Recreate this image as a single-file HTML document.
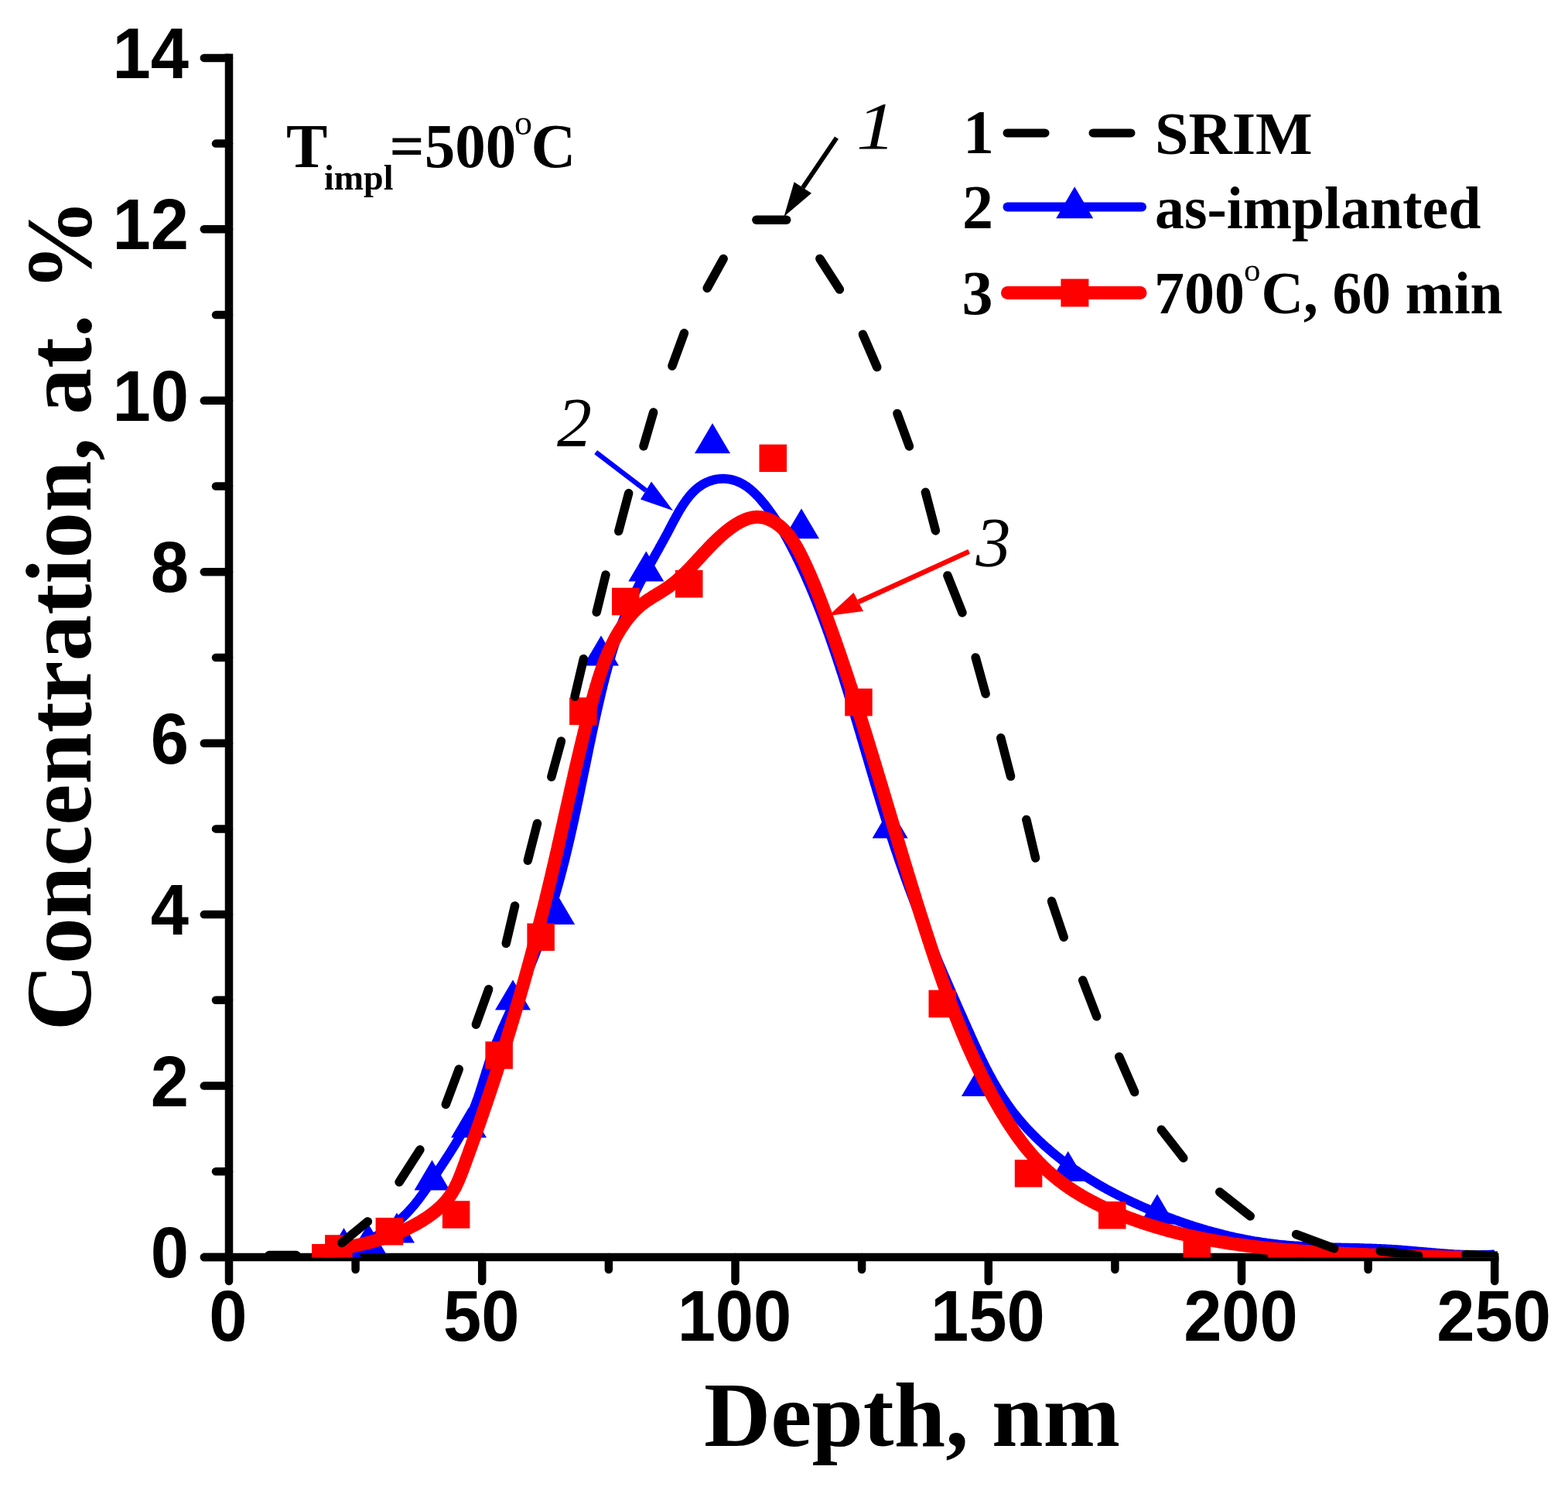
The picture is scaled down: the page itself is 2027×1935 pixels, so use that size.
<!DOCTYPE html><html><head><meta charset="utf-8"><style>html,body{margin:0;padding:0;background:#fff;overflow:hidden}svg{display:block}</style></head><body>
<svg xmlns="http://www.w3.org/2000/svg" width="2027" height="1935" viewBox="0 0 2027 1935">
<rect width="2027" height="1935" fill="#fff"/>
<defs><clipPath id="pc"><rect x="296" y="0" width="1640" height="1625.5"/></clipPath></defs>
<g stroke="#000" stroke-width="10.5" stroke-linecap="round" fill="none">
<path d="M296,69.6 L296,1625" stroke-linecap="butt"/>
<path d="M262,1624.9 L1937.45,1624.9" stroke-linecap="butt"/>
<path d="M263.8,1625.0 L296,1625.0"/>
<path d="M279,1514.3 L296,1514.3"/>
<path d="M263.8,1403.6 L296,1403.6"/>
<path d="M279,1292.8 L296,1292.8"/>
<path d="M263.8,1182.1 L296,1182.1"/>
<path d="M279,1071.4 L296,1071.4"/>
<path d="M263.8,960.7 L296,960.7"/>
<path d="M279,850.0 L296,850.0"/>
<path d="M263.8,739.2 L296,739.2"/>
<path d="M279,628.5 L296,628.5"/>
<path d="M263.8,517.8 L296,517.8"/>
<path d="M279,407.1 L296,407.1"/>
<path d="M263.8,296.3 L296,296.3"/>
<path d="M279,185.6 L296,185.6"/>
<path d="M263.8,74.9 L296,74.9"/>
<path d="M296.0,1625 L296.0,1656"/>
<path d="M459.6,1625 L459.6,1641"/>
<path d="M623.2,1625 L623.2,1656"/>
<path d="M786.9,1625 L786.9,1641"/>
<path d="M950.5,1625 L950.5,1656"/>
<path d="M1114.1,1625 L1114.1,1641"/>
<path d="M1277.8,1625 L1277.8,1656"/>
<path d="M1441.4,1625 L1441.4,1641"/>
<path d="M1605.0,1625 L1605.0,1656"/>
<path d="M1768.6,1625 L1768.6,1641"/>
<path d="M1932.2,1625 L1932.2,1656"/>
</g>
<g font-family="Liberation Sans, Arial, sans-serif" font-weight="bold" font-size="93" fill="#000">
<text x="244" y="1651.0" text-anchor="end" transform="translate(244 0) scale(0.952 1) translate(-244 0)">0</text>
<text x="244" y="1429.6" text-anchor="end" transform="translate(244 0) scale(0.952 1) translate(-244 0)">2</text>
<text x="244" y="1208.1" text-anchor="end" transform="translate(244 0) scale(0.952 1) translate(-244 0)">4</text>
<text x="244" y="986.7" text-anchor="end" transform="translate(244 0) scale(0.952 1) translate(-244 0)">6</text>
<text x="244" y="765.2" text-anchor="end" transform="translate(244 0) scale(0.952 1) translate(-244 0)">8</text>
<text x="244" y="543.8" text-anchor="end" transform="translate(244 0) scale(0.952 1) translate(-244 0)">10</text>
<text x="244" y="322.3" text-anchor="end" transform="translate(244 0) scale(0.952 1) translate(-244 0)">12</text>
<text x="244" y="100.9" text-anchor="end" transform="translate(244 0) scale(0.952 1) translate(-244 0)">14</text>
<text x="295.0" y="1733" text-anchor="middle" transform="translate(295.0 0) scale(0.952 1) translate(-295.0 0)">0</text>
<text x="622.2" y="1733" text-anchor="middle" transform="translate(622.2 0) scale(0.952 1) translate(-622.2 0)">50</text>
<text x="949.5" y="1733" text-anchor="middle" transform="translate(949.5 0) scale(0.952 1) translate(-949.5 0)">100</text>
<text x="1276.8" y="1733" text-anchor="middle" transform="translate(1276.8 0) scale(0.952 1) translate(-1276.8 0)">150</text>
<text x="1604.0" y="1733" text-anchor="middle" transform="translate(1604.0 0) scale(0.952 1) translate(-1604.0 0)">200</text>
<text x="1931.2" y="1733" text-anchor="middle" transform="translate(1931.2 0) scale(0.952 1) translate(-1931.2 0)">250</text>
</g>
<g clip-path="url(#pc)">
<path d="M405.2,1624.0 L407.1,1623.7 L409.0,1623.4 L410.9,1623.1 L412.8,1622.7 L414.7,1622.4 L416.7,1622.0 L418.6,1621.6 L420.5,1621.2 L422.5,1620.8 L424.4,1620.4 L426.3,1620.0 L428.3,1619.5 L430.2,1619.0 L432.1,1618.6 L434.1,1618.1 L436.0,1617.5 L438.0,1617.0 L439.9,1616.5 L441.8,1615.9 L443.8,1615.3 L445.7,1614.7 L447.6,1614.1 L449.5,1613.5 L451.5,1612.9 L453.4,1612.2 L455.3,1611.5 L457.2,1610.9 L459.1,1610.2 L461.0,1609.4 L462.9,1608.7 L464.7,1607.9 L466.6,1607.2 L468.5,1606.4 L470.3,1605.6 L472.2,1604.8 L474.0,1603.9 L475.9,1603.1 L477.7,1602.2 L479.5,1601.3 L481.3,1600.4 L483.1,1599.5 L484.9,1598.6 L486.7,1597.6 L488.4,1596.6 L490.2,1595.6 L491.9,1594.6 L493.6,1593.6 L495.3,1592.6 L497.0,1591.5 L498.7,1590.4 L500.4,1589.3 L502.0,1588.2 L503.7,1587.1 L505.3,1585.9 L506.9,1584.8 L508.5,1583.6 L510.1,1582.4 L511.6,1581.1 L513.2,1579.9 L514.7,1578.6 L516.2,1577.4 L517.7,1576.1 L519.2,1574.7 L520.6,1573.4 L522.0,1572.0 L523.4,1570.7 L524.8,1569.3 L526.2,1567.9 L527.6,1566.4 L528.9,1565.0 L530.2,1563.5 L531.6,1562.1 L532.8,1560.6 L534.1,1559.1 L535.4,1557.6 L536.7,1556.0 L537.9,1554.5 L539.1,1552.9 L540.3,1551.4 L541.6,1549.8 L542.7,1548.2 L543.9,1546.6 L545.1,1545.0 L546.3,1543.4 L547.4,1541.8 L548.6,1540.2 L549.7,1538.5 L550.9,1536.9 L552.0,1535.2 L553.1,1533.6 L554.3,1531.9 L555.4,1530.3 L556.5,1528.6 L557.6,1526.9 L558.7,1525.3 L559.8,1523.6 L560.9,1521.9 L562.0,1520.2 L563.1,1518.5 L564.2,1516.9 L565.3,1515.2 L566.4,1513.5 L567.5,1511.8 L568.6,1510.1 L569.7,1508.4 L570.8,1506.8 L571.9,1505.1 L573.0,1503.4 L574.1,1501.7 L575.2,1500.0 L576.3,1498.3 L577.4,1496.7 L578.5,1495.0 L579.6,1493.3 L580.7,1491.6 L581.8,1489.9 L582.8,1488.2 L583.9,1486.5 L585.0,1484.8 L586.0,1483.1 L587.1,1481.4 L588.1,1479.7 L589.2,1478.0 L590.2,1476.3 L591.2,1474.6 L592.2,1472.8 L593.2,1471.1 L594.2,1469.4 L595.2,1467.7 L596.2,1465.9 L597.2,1464.2 L598.2,1462.4 L599.1,1460.7 L600.1,1458.9 L601.0,1457.2 L601.9,1455.4 L602.9,1453.6 L603.8,1451.9 L604.7,1450.1 L605.5,1448.3 L606.4,1446.5 L607.3,1444.7 L608.1,1442.9 L608.9,1441.1 L609.7,1439.3 L610.5,1437.5 L611.3,1435.6 L612.1,1433.8 L612.9,1432.0 L613.6,1430.1 L614.3,1428.2 L615.0,1426.4 L615.7,1424.5 L616.4,1422.6 L617.1,1420.7 L617.8,1418.9 L618.4,1417.0 L619.0,1415.1 L619.7,1413.2 L620.3,1411.3 L620.9,1409.3 L621.5,1407.4 L622.1,1405.5 L622.7,1403.6 L623.3,1401.7 L623.9,1399.8 L624.5,1397.8 L625.1,1395.9 L625.7,1394.0 L626.3,1392.1 L626.9,1390.1 L627.5,1388.2 L628.1,1386.3 L628.7,1384.4 L629.3,1382.5 L629.9,1380.6 L630.5,1378.6 L631.1,1376.7 L631.7,1374.8 L632.3,1372.9 L633.0,1371.0 L633.6,1369.1 L634.3,1367.2 L634.9,1365.4 L635.6,1363.5 L636.3,1361.6 L637.0,1359.7 L637.7,1357.9 L638.4,1356.0 L639.1,1354.1 L639.8,1352.3 L640.6,1350.4 L641.3,1348.6 L642.1,1346.7 L642.8,1344.9 L643.6,1343.1 L644.3,1341.2 L645.1,1339.4 L645.9,1337.6 L646.7,1335.7 L647.4,1333.9 L648.2,1332.1 L649.0,1330.3 L649.8,1328.4 L650.6,1326.6 L651.5,1324.8 L652.3,1323.0 L653.1,1321.2 L653.9,1319.4 L654.7,1317.6 L655.5,1315.8 L656.4,1313.9 L657.2,1312.1 L658.0,1310.3 L658.9,1308.5 L659.7,1306.7 L660.5,1304.9 L661.4,1303.1 L662.2,1301.3 L663.1,1299.5 L663.9,1297.7 L664.7,1295.9 L665.6,1294.1 L666.4,1292.3 L667.2,1290.5 L668.1,1288.7 L668.9,1286.8 L669.7,1285.0 L670.6,1283.2 L671.4,1281.4 L672.2,1279.6 L673.1,1277.8 L673.9,1276.0 L674.7,1274.1 L675.5,1272.3 L676.3,1270.5 L677.1,1268.7 L677.9,1266.8 L678.7,1265.0 L679.5,1263.2 L680.3,1261.3 L681.1,1259.5 L681.9,1257.7 L682.7,1255.8 L683.4,1254.0 L684.2,1252.1 L685.0,1250.3 L685.8,1248.4 L686.5,1246.6 L687.3,1244.7 L688.0,1242.9 L688.8,1241.0 L689.5,1239.1 L690.3,1237.3 L691.0,1235.4 L691.7,1233.6 L692.5,1231.7 L693.2,1229.8 L693.9,1227.9 L694.6,1226.1 L695.3,1224.2 L696.0,1222.3 L696.7,1220.4 L697.4,1218.6 L698.1,1216.7 L698.8,1214.8 L699.5,1212.9 L700.2,1211.0 L700.9,1209.1 L701.6,1207.3 L702.2,1205.4 L702.9,1203.5 L703.6,1201.6 L704.2,1199.7 L704.9,1197.8 L705.5,1195.9 L706.2,1194.0 L706.8,1192.1 L707.5,1190.2 L708.1,1188.3 L708.7,1186.4 L709.3,1184.5 L710.0,1182.6 L710.6,1180.7 L711.2,1178.8 L711.8,1176.9 L712.4,1175.0 L713.0,1173.1 L713.6,1171.2 L714.2,1169.2 L714.8,1167.3 L715.4,1165.4 L715.9,1163.5 L716.5,1161.6 L717.1,1159.7 L717.7,1157.8 L718.2,1155.9 L718.8,1153.9 L719.3,1152.0 L719.9,1150.1 L720.4,1148.2 L721.0,1146.3 L721.5,1144.3 L722.1,1142.4 L722.6,1140.5 L723.1,1138.6 L723.6,1136.7 L724.2,1134.7 L724.7,1132.8 L725.2,1130.9 L725.7,1129.0 L726.2,1127.0 L726.7,1125.1 L727.2,1123.2 L727.7,1121.3 L728.2,1119.3 L728.7,1117.4 L729.2,1115.5 L729.7,1113.5 L730.2,1111.6 L730.7,1109.7 L731.1,1107.7 L731.6,1105.8 L732.1,1103.9 L732.6,1101.9 L733.0,1100.0 L733.5,1098.1 L734.0,1096.1 L734.4,1094.2 L734.9,1092.3 L735.3,1090.3 L735.8,1088.4 L736.2,1086.5 L736.7,1084.5 L737.1,1082.6 L737.6,1080.6 L738.0,1078.7 L738.5,1076.8 L738.9,1074.8 L739.3,1072.9 L739.8,1070.9 L740.2,1069.0 L740.6,1067.1 L741.1,1065.1 L741.5,1063.2 L741.9,1061.2 L742.4,1059.3 L742.8,1057.3 L743.2,1055.4 L743.6,1053.4 L744.0,1051.5 L744.5,1049.5 L744.9,1047.6 L745.3,1045.7 L745.7,1043.7 L746.1,1041.8 L746.5,1039.8 L747.0,1037.9 L747.4,1035.9 L747.8,1034.0 L748.2,1032.0 L748.6,1030.1 L749.0,1028.1 L749.4,1026.2 L749.8,1024.2 L750.2,1022.2 L750.6,1020.3 L751.0,1018.3 L751.4,1016.4 L751.8,1014.4 L752.2,1012.5 L752.6,1010.5 L753.0,1008.6 L753.4,1006.6 L753.8,1004.7 L754.2,1002.7 L754.6,1000.7 L755.0,998.8 L755.4,996.8 L755.9,994.9 L756.3,992.9 L756.7,991.0 L757.1,989.0 L757.5,987.0 L757.9,985.1 L758.3,983.1 L758.7,981.2 L759.1,979.2 L759.5,977.3 L759.9,975.3 L760.3,973.3 L760.7,971.4 L761.1,969.4 L761.5,967.5 L761.9,965.5 L762.3,963.5 L762.7,961.6 L763.1,959.6 L763.6,957.7 L764.0,955.7 L764.4,953.7 L764.8,951.8 L765.2,949.8 L765.6,947.8 L766.0,945.9 L766.5,943.9 L766.9,942.0 L767.3,940.0 L767.7,938.0 L768.2,936.1 L768.6,934.1 L769.0,932.1 L769.4,930.2 L769.9,928.2 L770.3,926.3 L770.7,924.3 L771.2,922.3 L771.6,920.4 L772.1,918.4 L772.5,916.4 L773.0,914.5 L773.4,912.5 L773.8,910.6 L774.3,908.6 L774.8,906.6 L775.2,904.7 L775.7,902.7 L776.1,900.7 L776.6,898.8 L777.1,896.8 L777.5,894.9 L778.0,892.9 L778.5,890.9 L779.0,889.0 L779.4,887.0 L779.9,885.1 L780.4,883.1 L780.9,881.2 L781.4,879.2 L781.9,877.3 L782.4,875.3 L782.9,873.4 L783.4,871.4 L783.9,869.5 L784.5,867.5 L785.0,865.6 L785.5,863.6 L786.0,861.7 L786.6,859.7 L787.1,857.8 L787.6,855.9 L788.2,853.9 L788.7,852.0 L789.3,850.1 L789.9,848.2 L790.4,846.2 L791.0,844.3 L791.6,842.4 L792.2,840.5 L792.8,838.6 L793.4,836.7 L793.9,834.8 L794.6,832.8 L795.2,830.9 L795.8,829.0 L796.4,827.1 L797.0,825.3 L797.7,823.4 L798.3,821.5 L798.9,819.6 L799.6,817.7 L800.3,815.8 L800.9,814.0 L801.6,812.1 L802.3,810.2 L802.9,808.4 L803.6,806.5 L804.3,804.7 L805.0,802.8 L805.7,801.0 L806.5,799.1 L807.2,797.3 L807.9,795.4 L808.7,793.6 L809.4,791.8 L810.2,790.0 L810.9,788.1 L811.7,786.3 L812.5,784.5 L813.3,782.7 L814.0,780.9 L814.8,779.1 L815.7,777.3 L816.5,775.6 L817.3,773.8 L818.1,772.0 L819.0,770.2 L819.8,768.5 L820.7,766.7 L821.5,765.0 L822.4,763.2 L823.3,761.4 L824.2,759.7 L825.0,758.0 L825.9,756.2 L826.8,754.5 L827.7,752.7 L828.7,751.0 L829.6,749.3 L830.5,747.5 L831.4,745.8 L832.4,744.1 L833.3,742.3 L834.2,740.6 L835.2,738.9 L836.1,737.2 L837.1,735.4 L838.0,733.7 L839.0,732.0 L840.0,730.2 L840.9,728.5 L841.9,726.8 L842.9,725.0 L843.8,723.3 L844.8,721.6 L845.8,719.8 L846.8,718.1 L847.7,716.3 L848.7,714.6 L849.7,712.8 L850.7,711.1 L851.7,709.3 L852.6,707.5 L853.6,705.7 L854.6,704.0 L855.6,702.2 L856.6,700.4 L857.6,698.6 L858.5,696.8 L859.5,695.0 L860.5,693.2 L861.5,691.4 L862.5,689.6 L863.4,687.7 L864.4,685.9 L865.4,684.0 L866.3,682.2 L867.3,680.3 L868.3,678.5 L869.2,676.6 L870.2,674.8 L871.2,672.9 L872.2,671.1 L873.2,669.3 L874.2,667.4 L875.2,665.6 L876.2,663.8 L877.2,662.0 L878.3,660.2 L879.3,658.4 L880.4,656.7 L881.5,655.0 L882.5,653.3 L883.7,651.6 L884.8,649.9 L885.9,648.3 L887.1,646.6 L888.3,645.1 L889.5,643.5 L890.7,642.0 L891.9,640.5 L893.2,639.0 L894.5,637.6 L895.8,636.2 L897.2,634.9 L898.5,633.6 L899.9,632.3 L901.4,631.1 L902.8,630.0 L904.3,628.8 L905.9,627.8 L907.4,626.7 L909.0,625.8 L910.7,624.9 L912.3,624.0 L914.1,623.2 L915.8,622.5 L917.6,621.8 L919.4,621.2 L921.2,620.6 L923.1,620.1 L925.0,619.7 L926.9,619.4 L928.8,619.1 L930.7,618.9 L932.7,618.8 L934.6,618.7 L936.6,618.8 L938.5,618.9 L940.5,619.1 L942.4,619.4 L944.3,619.7 L946.2,620.1 L948.1,620.6 L950.0,621.2 L951.9,621.9 L953.7,622.6 L955.6,623.4 L957.4,624.2 L959.1,625.2 L960.9,626.1 L962.6,627.2 L964.3,628.3 L966.0,629.4 L967.6,630.7 L969.2,631.9 L970.8,633.2 L972.3,634.6 L973.9,635.9 L975.4,637.4 L976.9,638.8 L978.3,640.3 L979.8,641.8 L981.2,643.4 L982.6,644.9 L984.0,646.5 L985.3,648.1 L986.6,649.7 L988.0,651.3 L989.3,652.9 L990.5,654.5 L991.8,656.2 L993.0,657.8 L994.2,659.5 L995.4,661.1 L996.6,662.8 L997.8,664.4 L999.0,666.1 L1000.1,667.7 L1001.2,669.4 L1002.3,671.1 L1003.4,672.8 L1004.5,674.5 L1005.6,676.2 L1006.7,677.9 L1007.7,679.6 L1008.7,681.3 L1009.8,683.0 L1010.8,684.7 L1011.8,686.4 L1012.8,688.1 L1013.8,689.8 L1014.7,691.6 L1015.7,693.3 L1016.7,695.0 L1017.6,696.8 L1018.6,698.5 L1019.5,700.3 L1020.4,702.0 L1021.4,703.8 L1022.3,705.5 L1023.2,707.3 L1024.1,709.0 L1025.0,710.8 L1025.9,712.6 L1026.8,714.3 L1027.7,716.1 L1028.6,717.9 L1029.5,719.7 L1030.3,721.5 L1031.2,723.3 L1032.1,725.0 L1032.9,726.8 L1033.8,728.6 L1034.6,730.4 L1035.5,732.2 L1036.3,734.0 L1037.2,735.8 L1038.0,737.6 L1038.8,739.4 L1039.7,741.3 L1040.5,743.1 L1041.3,744.9 L1042.1,746.7 L1042.9,748.5 L1043.7,750.4 L1044.5,752.2 L1045.3,754.0 L1046.1,755.8 L1046.9,757.7 L1047.7,759.5 L1048.4,761.4 L1049.2,763.2 L1050.0,765.0 L1050.8,766.9 L1051.5,768.7 L1052.3,770.6 L1053.0,772.4 L1053.8,774.3 L1054.5,776.1 L1055.3,778.0 L1056.0,779.8 L1056.7,781.7 L1057.5,783.6 L1058.2,785.4 L1058.9,787.3 L1059.7,789.1 L1060.4,791.0 L1061.1,792.9 L1061.8,794.7 L1062.5,796.6 L1063.2,798.5 L1063.9,800.4 L1064.6,802.2 L1065.3,804.1 L1066.0,806.0 L1066.7,807.9 L1067.4,809.7 L1068.1,811.6 L1068.8,813.5 L1069.4,815.4 L1070.1,817.3 L1070.8,819.2 L1071.5,821.0 L1072.1,822.9 L1072.8,824.8 L1073.4,826.7 L1074.1,828.6 L1074.8,830.5 L1075.4,832.4 L1076.1,834.3 L1076.7,836.2 L1077.4,838.1 L1078.0,840.0 L1078.7,841.8 L1079.3,843.7 L1079.9,845.6 L1080.6,847.5 L1081.2,849.4 L1081.8,851.3 L1082.5,853.2 L1083.1,855.1 L1083.7,857.0 L1084.4,858.9 L1085.0,860.8 L1085.6,862.7 L1086.2,864.6 L1086.8,866.5 L1087.4,868.4 L1088.1,870.3 L1088.7,872.2 L1089.3,874.1 L1089.9,876.1 L1090.5,878.0 L1091.1,879.9 L1091.7,881.8 L1092.3,883.7 L1092.9,885.6 L1093.5,887.5 L1094.1,889.4 L1094.7,891.3 L1095.3,893.2 L1095.9,895.1 L1096.5,897.0 L1097.0,899.0 L1097.6,900.9 L1098.2,902.8 L1098.8,904.7 L1099.4,906.6 L1100.0,908.5 L1100.6,910.4 L1101.1,912.3 L1101.7,914.3 L1102.3,916.2 L1102.9,918.1 L1103.4,920.0 L1104.0,921.9 L1104.6,923.8 L1105.2,925.7 L1105.7,927.7 L1106.3,929.6 L1106.9,931.5 L1107.5,933.4 L1108.0,935.3 L1108.6,937.2 L1109.2,939.2 L1109.7,941.1 L1110.3,943.0 L1110.9,944.9 L1111.4,946.8 L1112.0,948.7 L1112.6,950.7 L1113.1,952.6 L1113.7,954.5 L1114.3,956.4 L1114.8,958.3 L1115.4,960.2 L1116.0,962.2 L1116.5,964.1 L1117.1,966.0 L1117.6,967.9 L1118.2,969.8 L1118.8,971.7 L1119.3,973.7 L1119.9,975.6 L1120.5,977.5 L1121.0,979.4 L1121.6,981.3 L1122.2,983.3 L1122.7,985.2 L1123.3,987.1 L1123.8,989.0 L1124.4,990.9 L1125.0,992.8 L1125.5,994.8 L1126.1,996.7 L1126.7,998.6 L1127.2,1000.5 L1127.8,1002.4 L1128.4,1004.3 L1128.9,1006.2 L1129.5,1008.2 L1130.1,1010.1 L1130.6,1012.0 L1131.2,1013.9 L1131.8,1015.8 L1132.4,1017.7 L1132.9,1019.7 L1133.5,1021.6 L1134.1,1023.5 L1134.6,1025.4 L1135.2,1027.3 L1135.8,1029.2 L1136.4,1031.1 L1137.0,1033.0 L1137.5,1035.0 L1138.1,1036.9 L1138.7,1038.8 L1139.3,1040.7 L1139.9,1042.6 L1140.4,1044.5 L1141.0,1046.4 L1141.6,1048.3 L1142.2,1050.2 L1142.8,1052.1 L1143.4,1054.0 L1144.0,1055.9 L1144.6,1057.9 L1145.2,1059.8 L1145.8,1061.7 L1146.4,1063.6 L1147.0,1065.5 L1147.6,1067.4 L1148.2,1069.3 L1148.8,1071.2 L1149.4,1073.1 L1150.0,1075.0 L1150.6,1076.9 L1151.2,1078.8 L1151.8,1080.7 L1152.4,1082.6 L1153.1,1084.5 L1153.7,1086.4 L1154.3,1088.3 L1154.9,1090.2 L1155.6,1092.1 L1156.2,1094.0 L1156.8,1095.9 L1157.4,1097.8 L1158.1,1099.6 L1158.7,1101.5 L1159.4,1103.4 L1160.0,1105.3 L1160.6,1107.2 L1161.3,1109.1 L1161.9,1111.0 L1162.6,1112.9 L1163.2,1114.8 L1163.9,1116.6 L1164.5,1118.5 L1165.2,1120.4 L1165.9,1122.3 L1166.5,1124.2 L1167.2,1126.1 L1167.9,1127.9 L1168.5,1129.8 L1169.2,1131.7 L1169.9,1133.6 L1170.6,1135.5 L1171.2,1137.3 L1171.9,1139.2 L1172.6,1141.1 L1173.3,1143.0 L1174.0,1144.8 L1174.7,1146.7 L1175.4,1148.6 L1176.1,1150.5 L1176.8,1152.3 L1177.5,1154.2 L1178.2,1156.1 L1178.9,1157.9 L1179.6,1159.8 L1180.3,1161.7 L1181.0,1163.5 L1181.7,1165.4 L1182.4,1167.3 L1183.1,1169.1 L1183.9,1171.0 L1184.6,1172.9 L1185.3,1174.7 L1186.0,1176.6 L1186.7,1178.4 L1187.5,1180.3 L1188.2,1182.2 L1188.9,1184.0 L1189.7,1185.9 L1190.4,1187.7 L1191.1,1189.6 L1191.9,1191.5 L1192.6,1193.3 L1193.4,1195.2 L1194.1,1197.0 L1194.8,1198.9 L1195.6,1200.7 L1196.3,1202.6 L1197.1,1204.4 L1197.8,1206.3 L1198.6,1208.2 L1199.3,1210.0 L1200.1,1211.9 L1200.9,1213.7 L1201.6,1215.6 L1202.4,1217.4 L1203.1,1219.3 L1203.9,1221.1 L1204.7,1223.0 L1205.4,1224.8 L1206.2,1226.6 L1207.0,1228.5 L1207.7,1230.3 L1208.5,1232.2 L1209.3,1234.0 L1210.1,1235.9 L1210.8,1237.7 L1211.6,1239.6 L1212.4,1241.4 L1213.2,1243.3 L1213.9,1245.1 L1214.7,1246.9 L1215.5,1248.8 L1216.3,1250.6 L1217.1,1252.5 L1217.9,1254.3 L1218.6,1256.1 L1219.4,1258.0 L1220.2,1259.8 L1221.0,1261.7 L1221.8,1263.5 L1222.6,1265.3 L1223.4,1267.2 L1224.2,1269.0 L1225.0,1270.8 L1225.8,1272.7 L1226.6,1274.5 L1227.4,1276.4 L1228.2,1278.2 L1229.0,1280.0 L1229.8,1281.9 L1230.6,1283.7 L1231.4,1285.5 L1232.2,1287.4 L1233.0,1289.2 L1233.8,1291.0 L1234.6,1292.9 L1235.4,1294.7 L1236.2,1296.5 L1237.0,1298.4 L1237.8,1300.2 L1238.6,1302.0 L1239.4,1303.9 L1240.2,1305.7 L1241.0,1307.5 L1241.9,1309.3 L1242.7,1311.2 L1243.5,1313.0 L1244.3,1314.8 L1245.1,1316.7 L1245.9,1318.5 L1246.7,1320.3 L1247.5,1322.2 L1248.4,1324.0 L1249.2,1325.8 L1250.0,1327.6 L1250.8,1329.5 L1251.6,1331.3 L1252.4,1333.1 L1253.3,1335.0 L1254.1,1336.8 L1254.9,1338.6 L1255.7,1340.4 L1256.5,1342.3 L1257.4,1344.1 L1258.2,1345.9 L1259.0,1347.7 L1259.8,1349.5 L1260.7,1351.4 L1261.5,1353.2 L1262.4,1355.0 L1263.2,1356.8 L1264.0,1358.6 L1264.9,1360.4 L1265.7,1362.2 L1266.6,1364.0 L1267.5,1365.8 L1268.3,1367.6 L1269.2,1369.4 L1270.1,1371.2 L1271.0,1373.0 L1271.8,1374.8 L1272.7,1376.6 L1273.6,1378.3 L1274.5,1380.1 L1275.4,1381.9 L1276.4,1383.7 L1277.3,1385.4 L1278.2,1387.2 L1279.1,1388.9 L1280.1,1390.7 L1281.0,1392.4 L1282.0,1394.2 L1282.9,1395.9 L1283.9,1397.7 L1284.9,1399.4 L1285.9,1401.1 L1286.9,1402.8 L1287.9,1404.6 L1288.9,1406.3 L1289.9,1408.0 L1290.9,1409.7 L1291.9,1411.4 L1293.0,1413.0 L1294.0,1414.7 L1295.1,1416.4 L1296.2,1418.1 L1297.3,1419.7 L1298.4,1421.4 L1299.5,1423.0 L1300.6,1424.7 L1301.7,1426.3 L1302.9,1428.0 L1304.0,1429.6 L1305.2,1431.2 L1306.3,1432.8 L1307.5,1434.4 L1308.7,1436.0 L1309.9,1437.6 L1311.1,1439.2 L1312.4,1440.7 L1313.6,1442.3 L1314.9,1443.9 L1316.1,1445.4 L1317.4,1446.9 L1318.7,1448.5 L1320.0,1450.0 L1321.3,1451.5 L1322.6,1453.0 L1324.0,1454.5 L1325.3,1456.0 L1326.7,1457.5 L1328.0,1459.0 L1329.4,1460.4 L1330.8,1461.9 L1332.2,1463.4 L1333.6,1464.8 L1335.0,1466.2 L1336.4,1467.7 L1337.8,1469.1 L1339.3,1470.5 L1340.7,1471.9 L1342.2,1473.3 L1343.6,1474.7 L1345.1,1476.0 L1346.6,1477.4 L1348.1,1478.8 L1349.5,1480.1 L1351.0,1481.5 L1352.5,1482.8 L1354.1,1484.1 L1355.6,1485.4 L1357.1,1486.7 L1358.6,1488.0 L1360.1,1489.3 L1361.7,1490.6 L1363.2,1491.9 L1364.8,1493.2 L1366.3,1494.4 L1367.9,1495.7 L1369.5,1496.9 L1371.0,1498.1 L1372.6,1499.4 L1374.2,1500.6 L1375.8,1501.8 L1377.4,1503.0 L1379.0,1504.2 L1380.6,1505.4 L1382.2,1506.5 L1383.9,1507.7 L1385.5,1508.9 L1387.1,1510.0 L1388.7,1511.2 L1390.4,1512.3 L1392.0,1513.4 L1393.7,1514.5 L1395.3,1515.7 L1397.0,1516.8 L1398.7,1517.9 L1400.3,1518.9 L1402.0,1520.0 L1403.7,1521.1 L1405.4,1522.2 L1407.1,1523.2 L1408.8,1524.3 L1410.5,1525.3 L1412.2,1526.4 L1413.9,1527.4 L1415.6,1528.4 L1417.3,1529.5 L1419.0,1530.5 L1420.7,1531.5 L1422.5,1532.5 L1424.2,1533.5 L1425.9,1534.4 L1427.7,1535.4 L1429.4,1536.4 L1431.2,1537.4 L1432.9,1538.3 L1434.7,1539.3 L1436.5,1540.2 L1438.2,1541.1 L1440.0,1542.1 L1441.8,1543.0 L1443.5,1543.9 L1445.3,1544.8 L1447.1,1545.7 L1448.9,1546.6 L1450.7,1547.5 L1452.5,1548.4 L1454.3,1549.3 L1456.1,1550.2 L1457.9,1551.0 L1459.7,1551.9 L1461.5,1552.8 L1463.3,1553.6 L1465.1,1554.5 L1466.9,1555.3 L1468.7,1556.1 L1470.6,1557.0 L1472.4,1557.8 L1474.2,1558.6 L1476.0,1559.4 L1477.9,1560.2 L1479.7,1561.0 L1481.5,1561.8 L1483.4,1562.6 L1485.2,1563.4 L1487.1,1564.2 L1488.9,1564.9 L1490.8,1565.7 L1492.6,1566.5 L1494.5,1567.2 L1496.3,1568.0 L1498.2,1568.7 L1500.0,1569.4 L1501.9,1570.2 L1503.8,1570.9 L1505.6,1571.6 L1507.5,1572.4 L1509.4,1573.1 L1511.2,1573.8 L1513.1,1574.5 L1515.0,1575.2 L1516.8,1575.9 L1518.7,1576.6 L1520.6,1577.2 L1522.5,1577.9 L1524.4,1578.6 L1526.3,1579.3 L1528.1,1579.9 L1530.0,1580.6 L1531.9,1581.2 L1533.8,1581.9 L1535.7,1582.5 L1537.6,1583.1 L1539.5,1583.7 L1541.4,1584.4 L1543.3,1585.0 L1545.2,1585.6 L1547.1,1586.2 L1549.0,1586.8 L1550.9,1587.4 L1552.8,1587.9 L1554.7,1588.5 L1556.7,1589.1 L1558.6,1589.6 L1560.5,1590.2 L1562.4,1590.7 L1564.3,1591.3 L1566.3,1591.8 L1568.2,1592.4 L1570.1,1592.9 L1572.0,1593.4 L1574.0,1593.9 L1575.9,1594.4 L1577.8,1594.9 L1579.8,1595.4 L1581.7,1595.9 L1583.6,1596.3 L1585.6,1596.8 L1587.5,1597.3 L1589.4,1597.7 L1591.4,1598.2 L1593.3,1598.6 L1595.3,1599.1 L1597.2,1599.5 L1599.2,1599.9 L1601.1,1600.3 L1603.1,1600.7 L1605.0,1601.1 L1607.0,1601.5 L1608.9,1601.9 L1610.9,1602.3 L1612.8,1602.6 L1614.8,1603.0 L1616.8,1603.4 L1618.7,1603.7 L1620.7,1604.1 L1622.7,1604.4 L1624.6,1604.7 L1626.6,1605.0 L1628.6,1605.3 L1630.5,1605.6 L1632.5,1605.9 L1634.5,1606.2 L1636.5,1606.5 L1638.4,1606.8 L1640.4,1607.0 L1642.4,1607.3 L1644.4,1607.5 L1646.3,1607.8 L1648.3,1608.0 L1650.3,1608.2 L1652.3,1608.5 L1654.3,1608.7 L1656.3,1608.9 L1658.3,1609.1 L1660.2,1609.2 L1662.2,1609.4 L1664.2,1609.6 L1666.2,1609.8 L1668.2,1609.9 L1670.2,1610.1 L1672.2,1610.2 L1674.2,1610.4 L1676.2,1610.5 L1678.2,1610.6 L1680.2,1610.7 L1682.2,1610.9 L1684.2,1611.0 L1686.2,1611.1 L1688.2,1611.2 L1690.2,1611.3 L1692.2,1611.4 L1694.2,1611.5 L1696.2,1611.6 L1698.2,1611.6 L1700.2,1611.7 L1702.2,1611.8 L1704.2,1611.9 L1706.2,1611.9 L1708.2,1612.0 L1710.2,1612.1 L1712.2,1612.1 L1714.2,1612.2 L1716.3,1612.2 L1718.3,1612.3 L1720.3,1612.3 L1722.3,1612.4 L1724.3,1612.4 L1726.3,1612.5 L1728.3,1612.5 L1730.3,1612.6 L1732.3,1612.6 L1734.3,1612.7 L1736.3,1612.7 L1738.3,1612.7 L1740.4,1612.8 L1742.4,1612.8 L1744.4,1612.9 L1746.4,1612.9 L1748.4,1613.0 L1750.4,1613.0 L1752.4,1613.0 L1754.4,1613.1 L1756.4,1613.1 L1758.4,1613.2 L1760.4,1613.2 L1762.4,1613.3 L1764.4,1613.4 L1766.4,1613.4 L1768.4,1613.5 L1770.4,1613.5 L1772.4,1613.6 L1774.5,1613.7 L1776.5,1613.7 L1778.5,1613.8 L1780.5,1613.9 L1782.5,1614.0 L1784.5,1614.1 L1786.5,1614.2 L1788.4,1614.2 L1790.4,1614.3 L1792.4,1614.4 L1794.4,1614.6 L1796.4,1614.7 L1798.4,1614.8 L1800.4,1614.9 L1802.4,1615.0 L1804.4,1615.2 L1806.4,1615.3 L1808.4,1615.5 L1810.4,1615.6 L1812.3,1615.7 L1814.3,1615.9 L1816.3,1616.1 L1818.3,1616.2 L1820.3,1616.4 L1822.3,1616.6 L1824.3,1616.7 L1826.2,1616.9 L1828.2,1617.1 L1830.2,1617.2 L1832.2,1617.4 L1834.2,1617.6 L1836.1,1617.8 L1838.1,1618.0 L1840.1,1618.1 L1842.1,1618.3 L1844.1,1618.5 L1846.1,1618.7 L1848.0,1618.8 L1850.0,1619.0 L1852.0,1619.2 L1854.0,1619.3 L1856.0,1619.5 L1857.9,1619.7 L1859.9,1619.8 L1861.9,1620.0 L1863.9,1620.2 L1865.9,1620.3 L1867.9,1620.5 L1869.8,1620.6 L1871.8,1620.7 L1873.8,1620.9 L1875.8,1621.0 L1877.8,1621.1 L1879.8,1621.3 L1881.8,1621.4 L1883.8,1621.5 L1885.8,1621.6 L1887.8,1621.7 L1889.8,1621.8 L1891.8,1621.8 L1893.7,1621.9 L1895.7,1622.0 L1897.7,1622.0 L1899.8,1622.1 L1901.8,1622.1 L1903.8,1622.2 L1905.8,1622.2 L1907.8,1622.2 L1909.8,1622.2 L1911.8,1622.2 L1913.8,1622.2 L1915.8,1622.1 L1917.8,1622.1 L1919.9,1622.0 L1921.9,1622.0 L1923.9,1621.9 L1925.9,1621.8 L1927.9,1621.7 L1930.0,1621.6 L1932.0,1621.5" stroke="#0000ff" stroke-width="12" fill="none" stroke-linejoin="round"/>
<g fill="#0000ff">
<path d="M444.5,1587.2 L467.5,1626.2 L421.5,1626.2 Z"/>
<path d="M476.0,1581.5 L499.0,1620.5 L453.0,1620.5 Z"/>
<path d="M513.0,1567.5 L536.0,1606.5 L490.0,1606.5 Z"/>
<path d="M558.5,1499.5 L581.5,1538.5 L535.5,1538.5 Z"/>
<path d="M606.0,1431.5 L629.0,1470.5 L583.0,1470.5 Z"/>
<path d="M663.0,1266.5 L686.0,1305.5 L640.0,1305.5 Z"/>
<path d="M720.2,1156.0 L743.2,1195.0 L697.2,1195.0 Z"/>
<path d="M777.0,821.5 L800.0,860.5 L754.0,860.5 Z"/>
<path d="M835.3,712.5 L858.3,751.5 L812.3,751.5 Z"/>
<path d="M921.0,547.0 L944.0,586.0 L898.0,586.0 Z"/>
<path d="M1036.0,657.2 L1059.0,696.2 L1013.0,696.2 Z"/>
<path d="M1150.6,1044.5 L1173.6,1083.5 L1127.6,1083.5 Z"/>
<path d="M1265.9,1378.0 L1288.9,1417.0 L1242.9,1417.0 Z"/>
<path d="M1380.7,1488.0 L1403.7,1527.0 L1357.7,1527.0 Z"/>
<path d="M1496.0,1543.5 L1519.0,1582.5 L1473.0,1582.5 Z"/>
</g>
<path d="M419.9,1616.7 L421.9,1616.4 L423.9,1616.2 L425.9,1615.9 L427.9,1615.6 L429.9,1615.3 L431.9,1615.0 L433.9,1614.7 L435.9,1614.3 L437.9,1614.0 L439.9,1613.7 L441.8,1613.4 L443.8,1613.0 L445.8,1612.7 L447.8,1612.3 L449.7,1611.9 L451.7,1611.6 L453.6,1611.2 L455.6,1610.8 L457.6,1610.4 L459.5,1610.0 L461.4,1609.6 L463.4,1609.2 L465.3,1608.8 L467.3,1608.3 L469.2,1607.9 L471.1,1607.4 L473.0,1607.0 L475.0,1606.5 L476.9,1606.0 L478.8,1605.5 L480.7,1605.0 L482.6,1604.5 L484.5,1603.9 L486.4,1603.4 L488.3,1602.8 L490.2,1602.2 L492.1,1601.7 L494.0,1601.1 L495.9,1600.5 L497.7,1599.8 L499.6,1599.2 L501.5,1598.5 L503.4,1597.9 L505.2,1597.2 L507.1,1596.5 L508.9,1595.8 L510.8,1595.1 L512.6,1594.3 L514.5,1593.6 L516.3,1592.8 L518.2,1592.0 L520.0,1591.2 L521.8,1590.4 L523.7,1589.5 L525.5,1588.7 L527.3,1587.8 L529.1,1586.9 L530.9,1586.0 L532.7,1585.1 L534.5,1584.1 L536.3,1583.2 L538.1,1582.2 L539.9,1581.2 L541.7,1580.1 L543.5,1579.1 L545.2,1578.0 L547.0,1577.0 L548.7,1575.8 L550.5,1574.7 L552.2,1573.6 L553.9,1572.4 L555.6,1571.2 L557.2,1570.0 L558.9,1568.8 L560.5,1567.5 L562.1,1566.3 L563.7,1565.0 L565.2,1563.7 L566.7,1562.3 L568.2,1561.0 L569.7,1559.6 L571.2,1558.2 L572.6,1556.8 L573.9,1555.3 L575.3,1553.8 L576.6,1552.3 L577.9,1550.8 L579.1,1549.3 L580.3,1547.7 L581.5,1546.1 L582.6,1544.5 L583.7,1542.9 L584.7,1541.2 L585.7,1539.5 L586.7,1537.8 L587.7,1536.1 L588.6,1534.4 L589.5,1532.6 L590.3,1530.8 L591.2,1529.0 L592.0,1527.2 L592.8,1525.4 L593.5,1523.6 L594.3,1521.8 L595.0,1519.9 L595.8,1518.1 L596.5,1516.2 L597.2,1514.4 L597.9,1512.5 L598.6,1510.6 L599.3,1508.8 L600.0,1506.9 L600.7,1505.0 L601.4,1503.1 L602.1,1501.3 L602.7,1499.4 L603.4,1497.5 L604.1,1495.6 L604.8,1493.8 L605.5,1491.9 L606.2,1490.0 L606.8,1488.1 L607.5,1486.2 L608.2,1484.4 L608.9,1482.5 L609.6,1480.6 L610.2,1478.7 L610.9,1476.8 L611.6,1475.0 L612.2,1473.1 L612.9,1471.2 L613.6,1469.3 L614.3,1467.4 L614.9,1465.5 L615.6,1463.7 L616.3,1461.8 L616.9,1459.9 L617.6,1458.0 L618.2,1456.1 L618.9,1454.2 L619.6,1452.3 L620.2,1450.5 L620.9,1448.6 L621.5,1446.7 L622.2,1444.8 L622.8,1442.9 L623.5,1441.0 L624.1,1439.1 L624.8,1437.2 L625.4,1435.3 L626.1,1433.4 L626.7,1431.5 L627.4,1429.7 L628.0,1427.8 L628.7,1425.9 L629.3,1424.0 L629.9,1422.1 L630.6,1420.2 L631.2,1418.3 L631.9,1416.4 L632.5,1414.5 L633.1,1412.6 L633.8,1410.7 L634.4,1408.8 L635.0,1406.9 L635.7,1405.0 L636.3,1403.1 L636.9,1401.2 L637.5,1399.3 L638.2,1397.4 L638.8,1395.5 L639.4,1393.6 L640.0,1391.7 L640.6,1389.8 L641.3,1387.9 L641.9,1386.0 L642.5,1384.1 L643.1,1382.2 L643.7,1380.3 L644.3,1378.4 L645.0,1376.5 L645.6,1374.6 L646.2,1372.6 L646.8,1370.7 L647.4,1368.8 L648.0,1366.9 L648.6,1365.0 L649.2,1363.1 L649.8,1361.2 L650.4,1359.3 L651.0,1357.4 L651.6,1355.5 L652.2,1353.6 L652.8,1351.6 L653.4,1349.7 L654.0,1347.8 L654.6,1345.9 L655.2,1344.0 L655.8,1342.1 L656.4,1340.2 L656.9,1338.3 L657.5,1336.3 L658.1,1334.4 L658.7,1332.5 L659.3,1330.6 L659.9,1328.7 L660.4,1326.8 L661.0,1324.9 L661.6,1322.9 L662.2,1321.0 L662.8,1319.1 L663.3,1317.2 L663.9,1315.3 L664.5,1313.4 L665.1,1311.4 L665.6,1309.5 L666.2,1307.6 L666.8,1305.7 L667.3,1303.8 L667.9,1301.8 L668.5,1299.9 L669.0,1298.0 L669.6,1296.1 L670.1,1294.2 L670.7,1292.2 L671.3,1290.3 L671.8,1288.4 L672.4,1286.5 L672.9,1284.5 L673.5,1282.6 L674.0,1280.7 L674.6,1278.8 L675.1,1276.8 L675.7,1274.9 L676.2,1273.0 L676.8,1271.1 L677.3,1269.1 L677.9,1267.2 L678.4,1265.3 L678.9,1263.4 L679.5,1261.4 L680.0,1259.5 L680.6,1257.6 L681.1,1255.7 L681.6,1253.7 L682.2,1251.8 L682.7,1249.9 L683.2,1247.9 L683.8,1246.0 L684.3,1244.1 L684.8,1242.2 L685.3,1240.2 L685.9,1238.3 L686.4,1236.4 L686.9,1234.4 L687.4,1232.5 L688.0,1230.6 L688.5,1228.6 L689.0,1226.7 L689.5,1224.8 L690.0,1222.9 L690.5,1220.9 L691.0,1219.0 L691.6,1217.1 L692.1,1215.1 L692.6,1213.2 L693.1,1211.3 L693.6,1209.3 L694.1,1207.4 L694.6,1205.5 L695.1,1203.5 L695.6,1201.6 L696.1,1199.6 L696.6,1197.7 L697.1,1195.8 L697.6,1193.8 L698.1,1191.9 L698.6,1190.0 L699.1,1188.0 L699.6,1186.1 L700.1,1184.2 L700.5,1182.2 L701.0,1180.3 L701.5,1178.3 L702.0,1176.4 L702.5,1174.5 L703.0,1172.5 L703.5,1170.6 L703.9,1168.7 L704.4,1166.7 L704.9,1164.8 L705.4,1162.8 L705.8,1160.9 L706.3,1159.0 L706.8,1157.0 L707.3,1155.1 L707.7,1153.1 L708.2,1151.2 L708.7,1149.3 L709.1,1147.3 L709.6,1145.4 L710.1,1143.4 L710.5,1141.5 L711.0,1139.6 L711.4,1137.6 L711.9,1135.7 L712.4,1133.7 L712.8,1131.8 L713.3,1129.9 L713.7,1127.9 L714.2,1126.0 L714.6,1124.0 L715.1,1122.1 L715.5,1120.1 L716.0,1118.2 L716.4,1116.3 L716.9,1114.3 L717.3,1112.4 L717.8,1110.4 L718.2,1108.5 L718.7,1106.5 L719.1,1104.6 L719.5,1102.7 L720.0,1100.7 L720.4,1098.8 L720.9,1096.8 L721.3,1094.9 L721.7,1092.9 L722.2,1091.0 L722.6,1089.0 L723.1,1087.1 L723.5,1085.2 L723.9,1083.2 L724.4,1081.3 L724.8,1079.3 L725.2,1077.4 L725.7,1075.4 L726.1,1073.5 L726.5,1071.5 L727.0,1069.6 L727.4,1067.6 L727.8,1065.7 L728.3,1063.7 L728.7,1061.8 L729.1,1059.9 L729.6,1057.9 L730.0,1056.0 L730.4,1054.0 L730.9,1052.1 L731.3,1050.1 L731.7,1048.2 L732.2,1046.2 L732.6,1044.3 L733.0,1042.3 L733.5,1040.4 L733.9,1038.4 L734.3,1036.5 L734.8,1034.5 L735.2,1032.6 L735.6,1030.7 L736.1,1028.7 L736.5,1026.8 L737.0,1024.8 L737.4,1022.9 L737.8,1020.9 L738.3,1019.0 L738.7,1017.0 L739.1,1015.1 L739.6,1013.1 L740.0,1011.2 L740.5,1009.2 L740.9,1007.3 L741.4,1005.3 L741.8,1003.4 L742.2,1001.4 L742.7,999.5 L743.1,997.5 L743.6,995.6 L744.0,993.6 L744.5,991.7 L744.9,989.7 L745.4,987.8 L745.8,985.8 L746.3,983.9 L746.7,981.9 L747.2,980.0 L747.6,978.1 L748.1,976.1 L748.6,974.2 L749.0,972.2 L749.5,970.3 L749.9,968.3 L750.4,966.4 L750.9,964.4 L751.3,962.5 L751.8,960.5 L752.3,958.6 L752.7,956.6 L753.2,954.7 L753.7,952.7 L754.2,950.8 L754.6,948.8 L755.1,946.9 L755.6,944.9 L756.1,943.0 L756.5,941.0 L757.0,939.1 L757.5,937.1 L758.0,935.2 L758.5,933.2 L759.0,931.3 L759.5,929.3 L760.0,927.4 L760.5,925.4 L761.0,923.5 L761.5,921.5 L762.0,919.6 L762.5,917.7 L763.0,915.7 L763.5,913.8 L764.0,911.8 L764.5,909.9 L765.0,907.9 L765.6,906.0 L766.1,904.0 L766.6,902.1 L767.1,900.1 L767.7,898.2 L768.2,896.3 L768.8,894.3 L769.3,892.4 L769.9,890.4 L770.4,888.5 L771.0,886.6 L771.6,884.7 L772.2,882.7 L772.7,880.8 L773.3,878.9 L773.9,877.0 L774.5,875.1 L775.2,873.2 L775.8,871.3 L776.4,869.4 L777.1,867.5 L777.7,865.6 L778.4,863.7 L779.1,861.8 L779.7,859.9 L780.4,858.1 L781.1,856.2 L781.8,854.3 L782.6,852.5 L783.3,850.6 L784.1,848.8 L784.8,847.0 L785.6,845.1 L786.4,843.3 L787.2,841.5 L788.0,839.7 L788.8,837.9 L789.7,836.1 L790.5,834.3 L791.4,832.5 L792.3,830.8 L793.2,829.0 L794.1,827.2 L795.0,825.5 L795.9,823.8 L796.9,822.0 L797.9,820.3 L798.9,818.6 L799.9,816.9 L800.9,815.2 L802.0,813.5 L803.0,811.9 L804.1,810.2 L805.2,808.6 L806.3,806.9 L807.5,805.3 L808.6,803.7 L809.8,802.1 L811.0,800.5 L812.2,799.0 L813.5,797.4 L814.7,795.9 L816.0,794.4 L817.4,792.9 L818.7,791.4 L820.1,790.0 L821.5,788.6 L822.9,787.2 L824.3,785.9 L825.8,784.5 L827.3,783.2 L828.8,782.0 L830.4,780.8 L831.9,779.6 L833.6,778.4 L835.2,777.2 L836.8,776.1 L838.5,775.0 L840.2,773.9 L841.9,772.8 L843.6,771.7 L845.3,770.7 L847.0,769.6 L848.7,768.6 L850.4,767.5 L852.2,766.5 L853.9,765.4 L855.6,764.4 L857.3,763.3 L859.0,762.2 L860.7,761.1 L862.3,760.0 L864.0,758.9 L865.6,757.7 L867.2,756.5 L868.8,755.3 L870.4,754.1 L871.9,752.9 L873.5,751.6 L875.0,750.3 L876.5,749.0 L878.0,747.7 L879.5,746.4 L880.9,745.0 L882.4,743.7 L883.8,742.3 L885.3,740.9 L886.7,739.5 L888.1,738.1 L889.5,736.7 L890.9,735.2 L892.3,733.8 L893.7,732.4 L895.1,730.9 L896.4,729.4 L897.8,728.0 L899.2,726.5 L900.5,725.0 L901.9,723.5 L903.3,722.1 L904.6,720.6 L906.0,719.1 L907.4,717.6 L908.7,716.1 L910.1,714.6 L911.5,713.2 L912.9,711.7 L914.2,710.2 L915.6,708.7 L917.0,707.3 L918.4,705.8 L919.8,704.4 L921.2,702.9 L922.7,701.5 L924.1,700.1 L925.6,698.7 L927.0,697.3 L928.5,695.9 L930.0,694.5 L931.5,693.1 L933.0,691.8 L934.5,690.5 L936.1,689.1 L937.6,687.8 L939.2,686.6 L940.8,685.3 L942.4,684.1 L944.1,682.8 L945.7,681.6 L947.4,680.5 L949.1,679.3 L950.8,678.2 L952.5,677.1 L954.3,676.1 L956.0,675.1 L957.8,674.2 L959.6,673.3 L961.4,672.5 L963.2,671.7 L965.0,671.0 L966.8,670.4 L968.6,669.9 L970.4,669.4 L972.3,669.0 L974.1,668.7 L975.9,668.5 L977.8,668.3 L979.6,668.3 L981.4,668.4 L983.3,668.5 L985.1,668.8 L986.9,669.1 L988.7,669.6 L990.5,670.1 L992.3,670.7 L994.1,671.4 L995.8,672.2 L997.5,673.0 L999.2,673.9 L1000.9,674.9 L1002.6,675.9 L1004.2,677.0 L1005.8,678.2 L1007.4,679.4 L1008.9,680.7 L1010.4,682.0 L1011.9,683.3 L1013.3,684.7 L1014.7,686.2 L1016.1,687.7 L1017.4,689.2 L1018.7,690.7 L1020.0,692.3 L1021.2,693.9 L1022.4,695.6 L1023.6,697.3 L1024.8,699.0 L1025.9,700.7 L1027.0,702.5 L1028.1,704.2 L1029.1,706.0 L1030.2,707.8 L1031.2,709.6 L1032.2,711.5 L1033.2,713.3 L1034.2,715.2 L1035.1,717.0 L1036.0,718.9 L1037.0,720.8 L1037.9,722.7 L1038.8,724.5 L1039.7,726.4 L1040.6,728.3 L1041.4,730.2 L1042.3,732.0 L1043.1,733.9 L1044.0,735.8 L1044.8,737.6 L1045.6,739.5 L1046.5,741.3 L1047.3,743.2 L1048.1,745.1 L1048.9,746.9 L1049.7,748.8 L1050.4,750.6 L1051.2,752.5 L1052.0,754.3 L1052.8,756.2 L1053.5,758.0 L1054.3,759.9 L1055.0,761.8 L1055.7,763.6 L1056.5,765.5 L1057.2,767.3 L1057.9,769.2 L1058.7,771.0 L1059.4,772.9 L1060.1,774.7 L1060.8,776.6 L1061.5,778.4 L1062.2,780.3 L1062.9,782.1 L1063.6,784.0 L1064.3,785.8 L1065.0,787.7 L1065.7,789.5 L1066.4,791.4 L1067.1,793.3 L1067.7,795.1 L1068.4,797.0 L1069.1,798.8 L1069.8,800.7 L1070.5,802.6 L1071.1,804.4 L1071.8,806.3 L1072.5,808.2 L1073.2,810.0 L1073.8,811.9 L1074.5,813.8 L1075.2,815.6 L1075.8,817.5 L1076.5,819.4 L1077.2,821.2 L1077.8,823.1 L1078.5,825.0 L1079.2,826.8 L1079.8,828.7 L1080.5,830.6 L1081.1,832.5 L1081.8,834.3 L1082.4,836.2 L1083.1,838.1 L1083.7,840.0 L1084.4,841.8 L1085.0,843.7 L1085.7,845.6 L1086.3,847.5 L1087.0,849.4 L1087.6,851.3 L1088.2,853.1 L1088.9,855.0 L1089.5,856.9 L1090.2,858.8 L1090.8,860.7 L1091.4,862.6 L1092.1,864.4 L1092.7,866.3 L1093.3,868.2 L1094.0,870.1 L1094.6,872.0 L1095.2,873.9 L1095.8,875.8 L1096.5,877.7 L1097.1,879.6 L1097.7,881.4 L1098.3,883.3 L1098.9,885.2 L1099.6,887.1 L1100.2,889.0 L1100.8,890.9 L1101.4,892.8 L1102.0,894.7 L1102.6,896.6 L1103.3,898.5 L1103.9,900.4 L1104.5,902.3 L1105.1,904.2 L1105.7,906.1 L1106.3,908.0 L1106.9,909.9 L1107.5,911.8 L1108.1,913.7 L1108.7,915.6 L1109.3,917.5 L1109.9,919.4 L1110.5,921.3 L1111.1,923.2 L1111.7,925.1 L1112.3,927.0 L1112.9,928.9 L1113.5,930.8 L1114.1,932.7 L1114.7,934.6 L1115.3,936.5 L1115.9,938.4 L1116.5,940.4 L1117.1,942.3 L1117.7,944.2 L1118.3,946.1 L1118.9,948.0 L1119.5,949.9 L1120.1,951.8 L1120.7,953.7 L1121.2,955.6 L1121.8,957.5 L1122.4,959.4 L1123.0,961.4 L1123.6,963.3 L1124.2,965.2 L1124.8,967.1 L1125.3,969.0 L1125.9,970.9 L1126.5,972.8 L1127.1,974.7 L1127.7,976.7 L1128.3,978.6 L1128.8,980.5 L1129.4,982.4 L1130.0,984.3 L1130.6,986.2 L1131.2,988.1 L1131.7,990.1 L1132.3,992.0 L1132.9,993.9 L1133.5,995.8 L1134.1,997.7 L1134.6,999.6 L1135.2,1001.6 L1135.8,1003.5 L1136.4,1005.4 L1136.9,1007.3 L1137.5,1009.2 L1138.1,1011.1 L1138.7,1013.1 L1139.3,1015.0 L1139.8,1016.9 L1140.4,1018.8 L1141.0,1020.7 L1141.6,1022.7 L1142.1,1024.6 L1142.7,1026.5 L1143.3,1028.4 L1143.8,1030.3 L1144.4,1032.2 L1145.0,1034.2 L1145.6,1036.1 L1146.1,1038.0 L1146.7,1039.9 L1147.3,1041.8 L1147.9,1043.8 L1148.4,1045.7 L1149.0,1047.6 L1149.6,1049.5 L1150.2,1051.4 L1150.7,1053.4 L1151.3,1055.3 L1151.9,1057.2 L1152.5,1059.1 L1153.0,1061.0 L1153.6,1063.0 L1154.2,1064.9 L1154.7,1066.8 L1155.3,1068.7 L1155.9,1070.6 L1156.5,1072.6 L1157.0,1074.5 L1157.6,1076.4 L1158.2,1078.3 L1158.8,1080.2 L1159.3,1082.2 L1159.9,1084.1 L1160.5,1086.0 L1161.1,1087.9 L1161.6,1089.8 L1162.2,1091.7 L1162.8,1093.7 L1163.4,1095.6 L1164.0,1097.5 L1164.5,1099.4 L1165.1,1101.3 L1165.7,1103.3 L1166.3,1105.2 L1166.8,1107.1 L1167.4,1109.0 L1168.0,1110.9 L1168.6,1112.9 L1169.2,1114.8 L1169.7,1116.7 L1170.3,1118.6 L1170.9,1120.5 L1171.5,1122.4 L1172.1,1124.4 L1172.7,1126.3 L1173.2,1128.2 L1173.8,1130.1 L1174.4,1132.0 L1175.0,1133.9 L1175.6,1135.9 L1176.2,1137.8 L1176.8,1139.7 L1177.3,1141.6 L1177.9,1143.5 L1178.5,1145.4 L1179.1,1147.3 L1179.7,1149.3 L1180.3,1151.2 L1180.9,1153.1 L1181.5,1155.0 L1182.1,1156.9 L1182.7,1158.8 L1183.3,1160.7 L1183.8,1162.6 L1184.4,1164.6 L1185.0,1166.5 L1185.6,1168.4 L1186.2,1170.3 L1186.8,1172.2 L1187.4,1174.1 L1188.0,1176.0 L1188.6,1177.9 L1189.2,1179.8 L1189.8,1181.7 L1190.4,1183.6 L1191.0,1185.6 L1191.7,1187.5 L1192.3,1189.4 L1192.9,1191.3 L1193.5,1193.2 L1194.1,1195.1 L1194.7,1197.0 L1195.3,1198.9 L1195.9,1200.8 L1196.5,1202.7 L1197.1,1204.6 L1197.8,1206.5 L1198.4,1208.4 L1199.0,1210.3 L1199.6,1212.2 L1200.2,1214.1 L1200.8,1216.0 L1201.5,1217.9 L1202.1,1219.8 L1202.7,1221.7 L1203.3,1223.6 L1204.0,1225.5 L1204.6,1227.4 L1205.2,1229.3 L1205.8,1231.2 L1206.5,1233.1 L1207.1,1235.0 L1207.7,1236.9 L1208.4,1238.8 L1209.0,1240.7 L1209.7,1242.6 L1210.3,1244.5 L1210.9,1246.3 L1211.6,1248.2 L1212.2,1250.1 L1212.9,1252.0 L1213.5,1253.9 L1214.2,1255.8 L1214.8,1257.7 L1215.5,1259.6 L1216.1,1261.4 L1216.8,1263.3 L1217.5,1265.2 L1218.1,1267.1 L1218.8,1269.0 L1219.4,1270.9 L1220.1,1272.7 L1220.8,1274.6 L1221.5,1276.5 L1222.1,1278.4 L1222.8,1280.2 L1223.5,1282.1 L1224.2,1284.0 L1224.9,1285.9 L1225.6,1287.7 L1226.2,1289.6 L1226.9,1291.5 L1227.6,1293.3 L1228.3,1295.2 L1229.0,1297.1 L1229.7,1298.9 L1230.4,1300.8 L1231.2,1302.7 L1231.9,1304.5 L1232.6,1306.4 L1233.3,1308.3 L1234.0,1310.1 L1234.7,1312.0 L1235.5,1313.8 L1236.2,1315.7 L1236.9,1317.5 L1237.7,1319.4 L1238.4,1321.2 L1239.1,1323.1 L1239.9,1324.9 L1240.6,1326.8 L1241.4,1328.6 L1242.2,1330.5 L1242.9,1332.3 L1243.7,1334.2 L1244.4,1336.0 L1245.2,1337.8 L1246.0,1339.7 L1246.8,1341.5 L1247.5,1343.3 L1248.3,1345.2 L1249.1,1347.0 L1249.9,1348.8 L1250.7,1350.7 L1251.5,1352.5 L1252.3,1354.3 L1253.1,1356.1 L1253.9,1358.0 L1254.7,1359.8 L1255.6,1361.6 L1256.4,1363.4 L1257.2,1365.2 L1258.0,1367.0 L1258.9,1368.9 L1259.7,1370.7 L1260.6,1372.5 L1261.4,1374.3 L1262.3,1376.1 L1263.1,1377.9 L1264.0,1379.7 L1264.9,1381.5 L1265.7,1383.3 L1266.6,1385.1 L1267.5,1386.9 L1268.4,1388.7 L1269.3,1390.5 L1270.1,1392.3 L1271.0,1394.0 L1271.9,1395.8 L1272.9,1397.6 L1273.8,1399.4 L1274.7,1401.2 L1275.6,1403.0 L1276.5,1404.7 L1277.5,1406.5 L1278.4,1408.3 L1279.4,1410.0 L1280.3,1411.8 L1281.3,1413.6 L1282.2,1415.3 L1283.2,1417.1 L1284.1,1418.9 L1285.1,1420.6 L1286.1,1422.4 L1287.1,1424.1 L1288.1,1425.9 L1289.1,1427.6 L1290.1,1429.4 L1291.1,1431.1 L1292.1,1432.9 L1293.1,1434.6 L1294.1,1436.3 L1295.2,1438.1 L1296.2,1439.8 L1297.3,1441.5 L1298.3,1443.2 L1299.4,1444.9 L1300.4,1446.7 L1301.5,1448.4 L1302.6,1450.1 L1303.7,1451.8 L1304.8,1453.5 L1305.9,1455.1 L1307.0,1456.8 L1308.1,1458.5 L1309.2,1460.2 L1310.3,1461.8 L1311.5,1463.5 L1312.6,1465.1 L1313.8,1466.8 L1314.9,1468.4 L1316.1,1470.0 L1317.3,1471.7 L1318.5,1473.3 L1319.7,1474.9 L1320.9,1476.5 L1322.1,1478.1 L1323.3,1479.7 L1324.5,1481.2 L1325.8,1482.8 L1327.0,1484.4 L1328.3,1485.9 L1329.6,1487.4 L1330.8,1489.0 L1332.1,1490.5 L1333.4,1492.0 L1334.7,1493.5 L1336.0,1495.0 L1337.4,1496.5 L1338.7,1497.9 L1340.1,1499.4 L1341.4,1500.9 L1342.8,1502.3 L1344.2,1503.7 L1345.6,1505.1 L1347.0,1506.5 L1348.4,1507.9 L1349.8,1509.3 L1351.2,1510.7 L1352.7,1512.0 L1354.1,1513.4 L1355.6,1514.7 L1357.1,1516.0 L1358.6,1517.3 L1360.1,1518.6 L1361.6,1519.9 L1363.1,1521.2 L1364.7,1522.4 L1366.2,1523.7 L1367.8,1524.9 L1369.3,1526.1 L1370.9,1527.3 L1372.5,1528.5 L1374.1,1529.7 L1375.7,1530.9 L1377.3,1532.0 L1378.9,1533.2 L1380.6,1534.3 L1382.2,1535.5 L1383.9,1536.6 L1385.5,1537.7 L1387.2,1538.8 L1388.9,1539.8 L1390.6,1540.9 L1392.3,1542.0 L1394.0,1543.0 L1395.7,1544.0 L1397.4,1545.1 L1399.1,1546.1 L1400.9,1547.1 L1402.6,1548.1 L1404.4,1549.1 L1406.1,1550.0 L1407.9,1551.0 L1409.6,1552.0 L1411.4,1552.9 L1413.2,1553.8 L1415.0,1554.8 L1416.8,1555.7 L1418.6,1556.6 L1420.4,1557.5 L1422.2,1558.4 L1424.0,1559.2 L1425.8,1560.1 L1427.6,1561.0 L1429.5,1561.8 L1431.3,1562.6 L1433.1,1563.5 L1435.0,1564.3 L1436.8,1565.1 L1438.7,1565.9 L1440.5,1566.7 L1442.4,1567.5 L1444.3,1568.3 L1446.1,1569.0 L1448.0,1569.8 L1449.9,1570.5 L1451.8,1571.3 L1453.6,1572.0 L1455.5,1572.8 L1457.4,1573.5 L1459.3,1574.2 L1461.2,1574.9 L1463.1,1575.6 L1465.0,1576.3 L1466.8,1577.0 L1468.7,1577.6 L1470.6,1578.3 L1472.5,1579.0 L1474.4,1579.6 L1476.3,1580.3 L1478.2,1580.9 L1480.1,1581.5 L1482.0,1582.2 L1484.0,1582.8 L1485.9,1583.4 L1487.8,1584.0 L1489.7,1584.6 L1491.6,1585.2 L1493.5,1585.8 L1495.4,1586.3 L1497.4,1586.9 L1499.3,1587.5 L1501.2,1588.0 L1503.1,1588.6 L1505.0,1589.1 L1507.0,1589.7 L1508.9,1590.2 L1510.8,1590.7 L1512.7,1591.2 L1514.7,1591.7 L1516.6,1592.2 L1518.5,1592.7 L1520.5,1593.2 L1522.4,1593.7 L1524.3,1594.2 L1526.3,1594.7 L1528.2,1595.1 L1530.2,1595.6 L1532.1,1596.1 L1534.1,1596.5 L1536.0,1597.0 L1537.9,1597.4 L1539.9,1597.8 L1541.8,1598.3 L1543.8,1598.7 L1545.7,1599.1 L1547.7,1599.5 L1549.6,1599.9 L1551.6,1600.3 L1553.5,1600.7 L1555.5,1601.1 L1557.5,1601.5 L1559.4,1601.9 L1561.4,1602.2 L1563.3,1602.6 L1565.3,1603.0 L1567.3,1603.3 L1569.2,1603.7 L1571.2,1604.0 L1573.1,1604.4 L1575.1,1604.7 L1577.1,1605.1 L1579.0,1605.4 L1581.0,1605.7 L1583.0,1606.0 L1584.9,1606.3 L1586.9,1606.7 L1588.9,1607.0 L1590.9,1607.3 L1592.8,1607.6 L1594.8,1607.9 L1596.8,1608.1 L1598.8,1608.4 L1600.7,1608.7 L1602.7,1609.0 L1604.7,1609.3 L1606.7,1609.5 L1608.6,1609.8 L1610.6,1610.0 L1612.6,1610.3 L1614.6,1610.6 L1616.6,1610.8 L1618.5,1611.0 L1620.5,1611.3 L1622.5,1611.5 L1624.5,1611.8 L1626.5,1612.0 L1628.5,1612.2 L1630.5,1612.4 L1632.4,1612.7 L1634.4,1612.9 L1636.4,1613.1 L1638.4,1613.3 L1640.4,1613.5 L1642.4,1613.7 L1644.4,1613.9 L1646.4,1614.1 L1648.3,1614.3 L1650.3,1614.5 L1652.3,1614.7 L1654.3,1614.8 L1656.3,1615.0 L1658.3,1615.2 L1660.3,1615.4 L1662.3,1615.5 L1664.3,1615.7 L1666.3,1615.9 L1668.3,1616.0 L1670.3,1616.2 L1672.3,1616.4 L1674.3,1616.5 L1676.3,1616.7 L1678.3,1616.8 L1680.2,1617.0 L1682.2,1617.1 L1684.2,1617.3 L1686.2,1617.4 L1688.2,1617.5 L1690.2,1617.7 L1692.2,1617.8 L1694.2,1617.9 L1696.2,1618.1 L1698.2,1618.2 L1700.2,1618.3 L1702.2,1618.5 L1704.2,1618.6 L1706.2,1618.7 L1708.2,1618.8 L1710.2,1618.9 L1712.2,1619.1 L1714.2,1619.2 L1716.2,1619.3 L1718.2,1619.4 L1720.2,1619.5 L1722.2,1619.6 L1724.2,1619.7 L1726.2,1619.8 L1728.2,1619.9 L1730.2,1620.0 L1732.2,1620.1 L1734.2,1620.2 L1736.2,1620.3 L1738.2,1620.4 L1740.2,1620.5 L1742.2,1620.6 L1744.2,1620.7 L1746.2,1620.8 L1748.2,1620.9 L1750.2,1621.0 L1752.2,1621.1 L1754.2,1621.2 L1756.2,1621.3 L1758.2,1621.4 L1760.2,1621.5 L1762.2,1621.5 L1764.2,1621.6 L1766.1,1621.7 L1768.1,1621.8 L1770.1,1621.9 L1772.1,1622.0 L1774.1,1622.0 L1776.1,1622.1 L1778.1,1622.2 L1780.1,1622.3 L1782.1,1622.3 L1784.1,1622.4 L1786.1,1622.5 L1788.1,1622.6 L1790.1,1622.6 L1792.1,1622.7 L1794.1,1622.8 L1796.1,1622.8 L1798.1,1622.9 L1800.1,1623.0 L1802.1,1623.0 L1804.1,1623.1 L1806.1,1623.2 L1808.1,1623.2 L1810.1,1623.3 L1812.1,1623.4 L1814.1,1623.4 L1816.1,1623.5 L1818.1,1623.6 L1820.1,1623.6 L1822.1,1623.7 L1824.1,1623.7 L1826.1,1623.8 L1828.1,1623.8 L1830.1,1623.9 L1832.0,1624.0 L1834.0,1624.0 L1836.0,1624.1 L1838.0,1624.1 L1840.0,1624.2 L1842.0,1624.2 L1844.0,1624.3 L1846.0,1624.3 L1848.0,1624.4 L1850.0,1624.4 L1852.0,1624.5 L1854.0,1624.5 L1856.0,1624.6 L1858.0,1624.6 L1860.0,1624.7 L1862.0,1624.7 L1864.0,1624.8 L1866.0,1624.8 L1868.0,1624.8 L1870.0,1624.9 L1872.0,1624.9 L1874.0,1625.0 L1876.0,1625.0 L1878.0,1625.1 L1880.0,1625.1 L1882.0,1625.1 L1884.0,1625.2 L1886.0,1625.2 L1888.0,1625.3 L1890.0,1625.3 L1892.0,1625.3 L1894.0,1625.4 L1896.0,1625.4 L1898.0,1625.5 L1900.0,1625.5 L1902.0,1625.5 L1904.0,1625.6 L1906.0,1625.6 L1908.0,1625.6 L1910.0,1625.7 L1912.0,1625.7 L1914.0,1625.7 L1916.0,1625.8 L1918.0,1625.8 L1920.0,1625.8 L1922.0,1625.9 L1924.0,1625.9 L1926.0,1625.9 L1928.0,1626.0 L1930.0,1626.0 L1932.0,1626.0" stroke="#ff0000" stroke-width="17" fill="none" stroke-linejoin="round"/>
<g fill="#ff0000">
<path d="M403.1,1608.0 h35.5 v35.5 h-35.5 Z"/>
<path d="M420.1,1596.2 h35.5 v35.5 h-35.5 Z"/>
<path d="M485.6,1574.0 h35.5 v35.5 h-35.5 Z"/>
<path d="M571.9,1552.2 h35.5 v35.5 h-35.5 Z"/>
<path d="M627.4,1346.2 h35.5 v35.5 h-35.5 Z"/>
<path d="M681.4,1193.5 h35.5 v35.5 h-35.5 Z"/>
<path d="M736.1,901.5 h35.5 v35.5 h-35.5 Z"/>
<path d="M791.0,759.8 h35.5 v35.5 h-35.5 Z"/>
<path d="M873.0,736.9 h35.5 v35.5 h-35.5 Z"/>
<path d="M981.5,574.5 h35.5 v35.5 h-35.5 Z"/>
<path d="M1092.2,890.0 h35.5 v35.5 h-35.5 Z"/>
<path d="M1200.5,1279.8 h35.5 v35.5 h-35.5 Z"/>
<path d="M1311.8,1499.0 h35.5 v35.5 h-35.5 Z"/>
<path d="M1420.0,1553.0 h35.5 v35.5 h-35.5 Z"/>
<path d="M1529.5,1595.2 h35.5 v35.5 h-35.5 Z"/>
<path d="M1638.8,1607.8 h35.5 v35.5 h-35.5 Z"/>
</g>
<g stroke="#000" stroke-width="11.5" stroke-linecap="round" fill="none">
<path d="M348.0,1622.5 L383.0,1622.5"/>
<path d="M441.9,1606.5 L475.4,1578.9"/>
<path d="M516.1,1527.9 L542.9,1486.1"/>
<path d="M576.3,1427.6 L593.3,1382.1"/>
<path d="M615.3,1324.3 L631.7,1278.7"/>
<path d="M654.2,1219.4 L665.6,1170.9"/>
<path d="M682.3,1112.2 L694.5,1064.4"/>
<path d="M712.8,1004.2 L725.5,958.0"/>
<path d="M743.0,900.3 L754.4,851.7"/>
<path d="M771.2,791.2 L783.0,743.0"/>
<path d="M799.7,686.6 L812.7,637.6"/>
<path d="M831.9,576.8 L844.7,533.0"/>
<path d="M868.9,473.0 L884.5,430.6"/>
<path d="M914.2,372.4 L935.2,334.5"/>
<path d="M977.9,284.2 L1016.7,284.2"/>
<path d="M1059.8,334.4 L1085.4,374.1"/>
<path d="M1115.4,432.2 L1133.8,474.6"/>
<path d="M1159.9,534.5 L1175.5,576.9"/>
<path d="M1196.4,636.3 L1209.4,685.9"/>
<path d="M1224.9,743.9 L1244.0,791.9"/>
<path d="M1261.2,849.9 L1274.1,896.8"/>
<path d="M1293.7,953.8 L1306.6,1003.5"/>
<path d="M1326.8,1059.4 L1338.6,1109.0"/>
<path d="M1359.5,1164.8 L1375.2,1211.4"/>
<path d="M1399.7,1267.1 L1417.7,1313.8"/>
<path d="M1446.7,1365.9 L1466.7,1411.6"/>
<path d="M1501.3,1460.3 L1529.8,1496.7"/>
<path d="M1576.7,1540.7 L1616.3,1572.0"/>
<path d="M1675.6,1595.5 L1724.7,1613.7"/>
<path d="M1784.2,1617.0 L1833.6,1623.0"/>
<path d="M1895.0,1621.6 L1937.0,1623.4"/>
</g>
</g>
<path d="M1081.5,178.1 L1037.8,242.6" stroke="#000" stroke-width="6.0" stroke-linecap="butt" fill="none"/><path d="M1013.5,280.0 L1026.6,235.3 L1049.0,249.8 Z" fill="#000"/>
<path d="M770.2,584.5 L835.0,634.0" stroke="#0000ff" stroke-width="6.5" stroke-linecap="butt" fill="none"/><path d="M870.0,660.0 L842.0,622.6 L828.0,645.5 Z" fill="#0000ff"/>
<path d="M1252.7,712.9 L1109.8,778.0" stroke="#ff0000" stroke-width="6.5" stroke-linecap="butt" fill="none"/><path d="M1071.0,796.0 L1103.5,766.0 L1116.0,790.0 Z" fill="#ff0000"/>
<g font-family="Liberation Serif, Times New Roman, serif" font-style="italic" font-size="90" fill="#000">
<text x="1107" y="192.5" font-size="87" transform="translate(1107 0) scale(1.17 1) translate(-1107 0)">1</text>
<text x="720" y="577.3">2</text>
<text x="1261.5" y="732">3</text>
</g>
<g font-family="Liberation Serif, Times New Roman, serif" font-weight="bold" fill="#000">
<text x="370" y="215.9" font-size="80">T</text>
<text x="419" y="244.5" font-size="46">impl</text>
<text x="503.6" y="215.9" font-size="80" textLength="163.6" lengthAdjust="spacingAndGlyphs">=500</text>
<text x="665" y="173.5" font-size="46" font-weight="normal">o</text>
<text x="686.5" y="215.9" font-size="80">C</text>
<text x="1245" y="198" font-size="80">1</text>
<text x="1244" y="294.6" font-size="80">2</text>
<text x="1243.5" y="405.5" font-size="80">3</text>
<text x="1493" y="198.9" font-size="78">SRIM</text>
<text x="1493" y="294.9" font-size="78" textLength="421.4" lengthAdjust="spacingAndGlyphs">as-implanted</text>
<text x="1492" y="405.3" font-size="78">700</text>
<text x="1608" y="363" font-size="43" font-weight="normal">o</text>
<text x="1630.5" y="405.3" font-size="78" textLength="312" lengthAdjust="spacingAndGlyphs">C, 60 min</text>
<text x="910" y="1868.7" font-size="118" textLength="538" lengthAdjust="spacingAndGlyphs">Depth, nm</text>
<text transform="translate(116.5 1332.2) rotate(-90)" x="0" y="0" font-size="120" textLength="1075.2" lengthAdjust="spacingAndGlyphs">Concentration, at. %</text>
</g>
<g stroke-linecap="round" fill="none">
<path d="M1302,171.9 L1351,171.9 M1413,171.9 L1462,171.9" stroke="#000" stroke-width="11"/>
<path d="M1302.5,267.5 L1476,267.5" stroke="#0000ff" stroke-width="12"/>
<path d="M1302.5,378.5 L1474,378.5" stroke="#ff0000" stroke-width="17"/>
</g>
<path d="M1389.2,241.2 L1413.2,282.2 L1365.2,282.2 Z" fill="#0000ff"/>
<path d="M1371.4,360.5 h36.0 v36.0 h-36.0 Z" fill="#ff0000"/>
</svg></body></html>
